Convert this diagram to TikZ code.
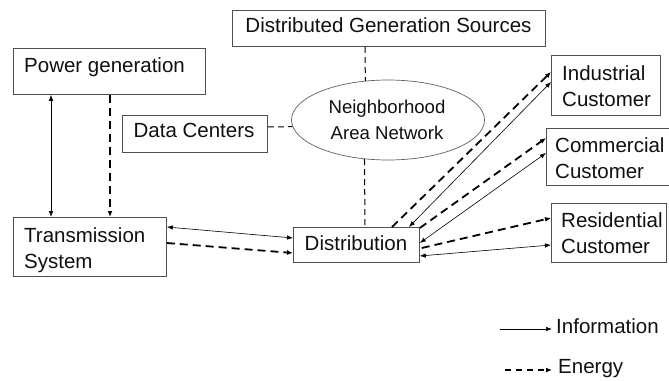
\documentclass[tikz,border=0pt]{standalone}
\usepackage{fontspec}
\setmainfont{Liberation Sans}
\usetikzlibrary{arrows.meta,shapes.geometric,calc}
\definecolor{boxc}{HTML}{505050}
\definecolor{ellc}{HTML}{606060}
\definecolor{txt}{HTML}{101010}
\begin{document}
\begin{tikzpicture}[x=1pt,y=-1pt,
  box/.style={draw=boxc, line width=0.8pt, inner sep=0pt, anchor=north west},
  lbl/.style={inner sep=0pt, font=\fontsize{20.5}{26}\selectfont, text=txt},
  info/.style={line width=0.6pt, -{Latex[length=6pt,width=4.5pt]}},
  infob/.style={line width=0.6pt, {Latex[length=6pt,width=4.5pt]}-{Latex[length=6pt,width=4.5pt]}},
  energy/.style={line width=1.8pt, dash pattern=on 8pt off 5pt, -{Latex[length=6pt,width=5pt]}},
  link/.style={line width=1pt, dash pattern=on 6pt off 4pt},
]
\useasboundingbox (0,0) rectangle (669,380);

% boxes
\node[box, minimum width=192pt, minimum height=46pt] (pg) at (13,48) {};
\node[lbl, anchor=base west] (pgt) at (24,72) {Power generation};

\node[box, minimum width=313pt, minimum height=36pt] (dgs) at (232,10) {};
\node[lbl, anchor=base] (dgst) at (388.5,32) {Distributed Generation Sources};

\node[box, minimum width=145pt, minimum height=37pt] (dc) at (122,115) {};
\node[lbl, anchor=base] (dct) at (194,137.5) {Data Centers};

\node[draw=ellc, line width=0.7pt, ellipse, minimum width=193pt, minimum height=80pt, inner sep=0pt] (nan) at (388,120) {};
\node[inner sep=0pt, font=\fontsize{18.6}{26}\selectfont, text=txt, align=center, anchor=north] (nant) at (387,99.6) {Neighborhood\\Area Network};

\node[box, minimum width=153pt, minimum height=59pt] (ts) at (13,217) {};
\node[lbl, align=left, anchor=north west] (tst) at (24,227.2) {Transmission\\System};

\node[box, minimum width=126pt, minimum height=35pt] (dist) at (293,227) {};
\node[lbl, anchor=base] (distt) at (356,250) {Distribution};

\node[box, minimum width=109pt, minimum height=60pt] (ind) at (551,55) {};
\node[lbl, align=left, anchor=north west] (indt) at (562,65.2) {Industrial\\Customer};

\node[box, minimum width=125pt, minimum height=57pt] (com) at (546,128) {};
\node[lbl, align=left, anchor=north west] (comt) at (555,137.2) {Commercial\\Customer};

\node[box, minimum width=115pt, minimum height=59pt] (res) at (551,203) {};
\node[lbl, align=left, anchor=north west] (rest) at (561,212.2) {Residential\\Customer};

% connectors
\draw[infob] ($(pg.south west)+(38,0)$) -- ($(ts.north west)+(38,0)$);
\draw[energy] ($(pg.south west)+(97,0)$) -- ($(ts.north west)+(97,0)$);
\draw[infob] ($(ts.north east)+(0,10)$) -- ($(dist.north west)+(0,11)$);
\draw[energy] ($(ts.north east)+(0,26)$) -- ($(dist.north west)+(0,26)$);

\draw[link] ($(dgs.south west)+(133,0)$) -- (nan.120.5);
\draw[link] (nan.239.5) -- ($(dist.north west)+(72,0)$);
\draw[link] ($(dc.north east)+(0,12)$) -- (nan.184);

\draw[energy] ($(dist.north west)+(99,0)$) -- ($(ind.north west)+(0,17)$);
\draw[infob] ($(dist.north west)+(116,0)$) -- ($(ind.north west)+(0,27)$);
\draw[energy] ($(dist.north east)+(0,1)$) -- ($(com.north west)+(0,10)$);
\draw[infob] ($(dist.north east)+(0,16)$) -- ($(com.north west)+(0,25)$);
\draw[energy] ($(dist.north east)+(2,21)$) -- ($(res.north west)+(0,15)$);
\draw[infob] ($(dist.north east)+(0,29)$) -- ($(res.north west)+(0,42)$);

% legend
\coordinate (il) at (500,329);
\coordinate (ir) at (552,329);
\draw[info] (il) -- (ir);
\node[lbl, anchor=base west] (infot) at (556,333) {Information};
\coordinate (el) at (505,370);
\coordinate (er) at (552,370);
\draw[energy, line width=1.4pt, dash pattern=on 6pt off 5pt] (el) -- (er);
\node[lbl, anchor=base west] (engt) at (558,373.5) {Energy};
\end{tikzpicture}
\end{document}
